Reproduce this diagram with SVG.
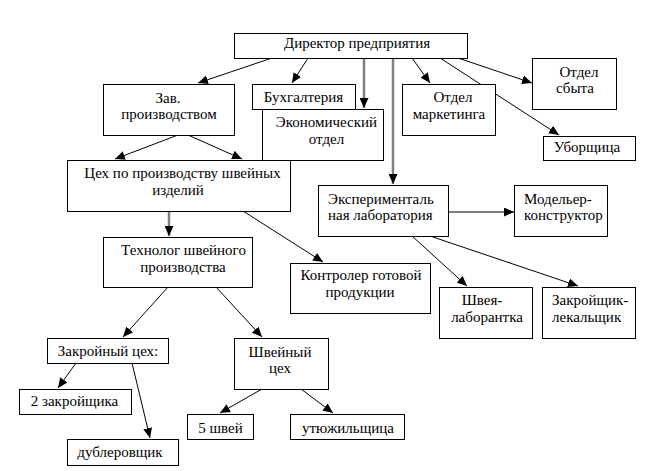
<svg xmlns="http://www.w3.org/2000/svg" width="651" height="471" viewBox="0 0 651 471">
<defs>
<style>
.box{fill:#fff;stroke:#000;stroke-width:1}
text{font-family:"Liberation Serif","Times New Roman",serif;font-size:15px;fill:#000;text-anchor:middle}
.st{text-anchor:start}
.c{stroke:#000;stroke-width:1;fill:none;marker-end:url(#ah)}
.g{stroke:#808080;stroke-width:2.5;fill:none;marker-end:url(#ahg)}
</style>
<marker id="ah" markerUnits="userSpaceOnUse" markerWidth="10" markerHeight="9" refX="10" refY="4.5" orient="auto">
<path d="M0,0 L10,4.5 L0,9 z" fill="#000"/>
</marker>
<marker id="ahg" markerUnits="userSpaceOnUse" markerWidth="10" markerHeight="9" refX="10" refY="4.5" orient="auto">
<path d="M0,0 L10,4.5 L0,9 z" fill="#000"/>
</marker>
</defs>
<rect width="651" height="471" fill="#fff"/>
<g id="connectors">
<line class="c" x1="272" y1="58" x2="198" y2="83"/>
<line class="c" x1="308" y1="58" x2="292" y2="83"/>
<line class="g" x1="364" y1="58" x2="364" y2="108"/>
<line class="g" x1="393" y1="58" x2="393" y2="184"/>
<line class="c" x1="412" y1="58" x2="430" y2="83"/>
<line class="c" x1="458" y1="58" x2="532" y2="83"/>
<line class="c" x1="440" y1="58" x2="559" y2="135"/>
<line class="c" x1="178" y1="135" x2="115" y2="159"/>
<line class="c" x1="188" y1="135" x2="242" y2="159"/>
<line class="g" x1="169" y1="211" x2="169" y2="236"/>
<line class="c" x1="243" y1="211" x2="323" y2="262"/>
<line class="c" x1="448" y1="212" x2="514" y2="212"/>
<line class="c" x1="412" y1="236" x2="467" y2="286"/>
<line class="c" x1="430" y1="236" x2="578" y2="286"/>
<line class="c" x1="168" y1="287" x2="123" y2="337"/>
<line class="c" x1="216" y1="287" x2="262" y2="337"/>
<line class="c" x1="76" y1="363" x2="58" y2="388"/>
<line class="c" x1="132" y1="363" x2="150" y2="438"/>
<line class="c" x1="262" y1="389" x2="220" y2="413"/>
<line class="c" x1="301" y1="389" x2="333" y2="413"/>
</g>
<g id="director"><rect class="box" x="234.5" y="33.5" width="233" height="25"/><text x="357" y="48">Директор предприятия</text></g>
<g id="zav"><rect class="box" x="103.5" y="84.5" width="131" height="51"/><text x="168" y="103">Зав.</text><text x="169" y="119">производством</text></g>
<g id="econ"><rect class="box" x="262.5" y="109.5" width="121" height="51"/><text x="326.5" y="127">Экономический</text><text x="326.5" y="144">отдел</text></g>
<g id="buh"><rect class="box" x="252.5" y="84.5" width="103" height="25"/><text x="303.5" y="102">Бухгалтерия</text></g>
<g id="marketing"><rect class="box" x="402.5" y="84.5" width="93" height="51"/><text x="453" y="102">Отдел</text><text x="449" y="119">маркетинга</text></g>
<g id="sbyt"><rect class="box" x="532.5" y="58.5" width="84" height="51"/><text x="579" y="77">Отдел</text><text x="575" y="93">сбыта</text></g>
<g id="uborsh"><rect class="box" x="543.5" y="136.5" width="92" height="24"/><text x="587" y="152">Уборщица</text></g>
<g id="ceh"><rect class="box" x="67.5" y="160.5" width="223" height="51"/><text x="182.5" y="178">Цех по производству швейных</text><text x="178" y="195">изделий</text></g>
<g id="eksp"><rect class="box" x="318.5" y="185.5" width="130" height="51"/><text class="st" x="328" y="204">Эксперименталь</text><text class="st" x="328" y="220">ная лаборатория</text></g>
<g id="modeler"><rect class="box" x="514.5" y="185.5" width="93" height="51"/><text class="st" x="524" y="204">Модельер-</text><text class="st" x="524" y="220">конструктор</text></g>
<g id="tehnolog"><rect class="box" x="103.5" y="237.5" width="149" height="50"/><text x="183.5" y="255">Технолог швейного</text><text x="183" y="272">производства</text></g>
<g id="kontroler"><rect class="box" x="290.5" y="263.5" width="140" height="50"/><text x="361" y="280">Контролер готовой</text><text x="360" y="297">продукции</text></g>
<g id="shveya"><rect class="box" x="439.5" y="287.5" width="93" height="51"/><text x="482" y="305">Швея-</text><text x="487" y="322">лаборантка</text></g>
<g id="zakroyshik"><rect class="box" x="542.5" y="287.5" width="93" height="51"/><text class="st" x="552" y="305">Закройщик-</text><text class="st" x="552" y="322">лекальщик</text></g>
<g id="zakroyceh"><rect class="box" x="47.5" y="338.5" width="121" height="25"/><text x="108" y="356">Закройный цех:</text></g>
<g id="shveyceh"><rect class="box" x="234.5" y="338.5" width="94" height="51"/><text x="280" y="357">Швейный</text><text x="280" y="373">цех</text></g>
<g id="dva"><rect class="box" x="19.5" y="389.5" width="112" height="25"/><text x="74.5" y="406">2 закройщика</text></g>
<g id="dubler"><rect class="box" x="67.5" y="439.5" width="111" height="26"/><text x="120" y="457">дублеровщик</text></g>
<g id="pyat"><rect class="box" x="187.5" y="414.5" width="66" height="25"/><text x="220.5" y="433">5 швей</text></g>
<g id="utyug"><rect class="box" x="290.5" y="414.5" width="114" height="25"/><text x="348" y="433">утюжильщица</text></g>
</svg>
